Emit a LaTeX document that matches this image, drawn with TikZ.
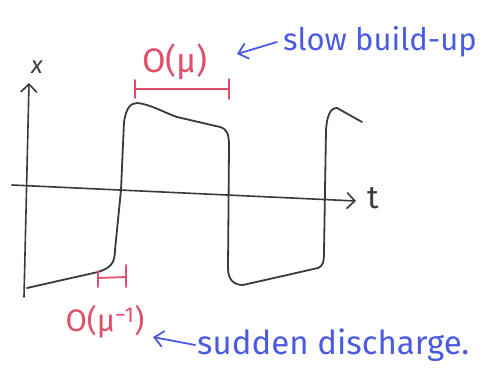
\documentclass[tikz,border=0pt]{standalone}
\usepackage{fontspec}
\setmainfont{Fira Sans}
\usetikzlibrary{arrows.meta}
\definecolor{ink}{HTML}{3A3A3A}
\definecolor{penred}{HTML}{E0506A}
\definecolor{penblue}{HTML}{4A5BE0}
\tikzset{
  axisline/.style={ink, line width=1.6pt, line cap=round, -{Straight Barb[length=8pt,width=16pt,line width=1.6pt]}},
  wave/.style={ink, line width=1.8pt, line cap=round, line join=round},
  redmark/.style={penred, line width=1.8pt, line cap=round},
  bluearrow/.style={penblue, line width=1.8pt, line cap=round, -{Straight Barb[length=9pt,width=16pt,line width=1.8pt]}},
  bluetext/.style={penblue, inner sep=0pt, anchor=west},
  redtext/.style={penred, inner sep=0pt},
  axislabel/.style={ink, font=\fontsize{24}{26}\selectfont\itshape, inner sep=0pt}
}
\begin{document}
\begin{tikzpicture}[x=1pt,y=1pt]
\useasboundingbox (0,0) rectangle (490,-382);
% axes
\coordinate (ybot) at (24,-297);
\coordinate (ytop) at (29,-83);
\coordinate (xleft) at (12,-185);
\coordinate (xright) at (356,-201);
\draw[axisline] (ybot) -- (ytop);
\draw[axisline] (xleft) -- (xright);
\node[axislabel] (xl) at (37,-67) {x};
\node[axislabel, font=\fontsize{32}{32}\selectfont] (tl) at (373,-198) {t};
% waveform
\draw[wave] (27,-288) -- (98,-272)
  .. controls (110,-268) and (115,-264) .. (115,-250)
  -- (121,-190) -- (124,-122)
  .. controls (126,-109) and (130,-103) .. (137,-103)
  .. controls (150,-104) and (165,-113) .. (177,-117)
  -- (220,-127)
  .. controls (227,-129) and (229,-134) .. (229,-146)
  -- (228,-268)
  .. controls (228,-280) and (234,-285) .. (243,-285)
  -- (318,-268)
  .. controls (323,-266) and (324,-262) .. (324,-252)
  -- (326,-130)
  .. controls (327,-116) and (330,-108) .. (337,-108)
  -- (362,-122);
% red marks
\coordinate (muL) at (135,-89);
\coordinate (muR) at (229,-89);
\draw[redmark] (muL) -- (muR);
\draw[redmark] ([yshift=9pt]muL) -- ([yshift=-9pt]muL);
\draw[redmark] ([yshift=10pt]muR) -- ([yshift=-10pt]muR);
\node[redtext, font=\fontsize{34}{36}\selectfont] (omu) at (175,-62) {O(μ)};
\coordinate (smL) at (98,-278);
\coordinate (smR) at (126,-277);
\draw[redmark] (smL) -- (smR);
\draw[redmark] ([yshift=7pt]smL) -- ([yshift=-9pt]smL);
\draw[redmark] ([yshift=12pt]smR) -- ([yshift=-10pt]smR);
\node[redtext, font=\fontsize{31}{33}\selectfont] (omuinv) at (105,-322) {O(μ\textsuperscript{−1})};
% blue annotations
\node[bluetext, font=\fontsize{31}{33}\selectfont] (slow) at (283,-42) {slow build-up};
\node[bluetext, font=\fontsize{33}{35}\selectfont] (sudden) at (197,-345) {sudden discharge.};
\coordinate (slowtip) at (237,-54);
\coordinate (suddentip) at (153,-337);
\draw[bluearrow] ([xshift=-6pt]slow.west) -- (slowtip);
\draw[bluearrow] ([xshift=-2pt]sudden.west) -- (suddentip);
\end{tikzpicture}
\end{document}
